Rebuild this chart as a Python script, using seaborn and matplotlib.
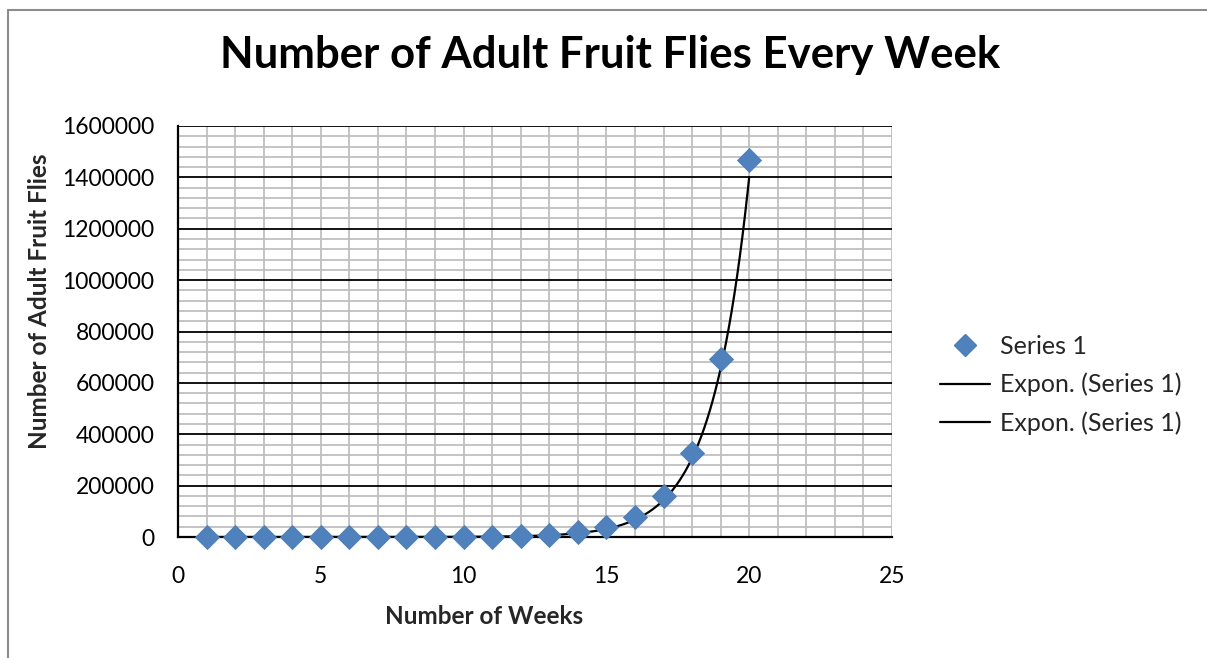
import numpy as np
import pandas as pd
import matplotlib
matplotlib.use("Agg")
import matplotlib.pyplot as plt
from matplotlib.lines import Line2D
from matplotlib.ticker import MultipleLocator
import seaborn as sns

# Weekly counts of adult fruit flies
weeks = [1, 2, 3, 4, 5, 6, 7, 8, 9, 10, 11, 12, 13, 14, 15, 16, 17, 18, 19, 20]
flies = [1, 2, 4, 8, 16, 32, 64, 128, 256, 520, 1100, 2300, 8000, 19000,
         37000, 76000, 158000, 328000, 692000, 1466000]

series_name = "Series 1"
trend_name = "Expon. (Series 1)"
title = "Number of Adult Fruit Flies Every Week"
x_label = "Number of Weeks"
y_label = "Number of Adult Fruit Flies"

x_ticks = [0, 5, 10, 15, 20, 25]
y_ticks = [0, 200000, 400000, 600000, 800000, 1000000, 1200000, 1400000, 1600000]

sns.set_theme(style="white")
plt.rcParams["font.family"] = ["Lato", "DejaVu Sans"]

df = pd.DataFrame({"week": weeks, "flies": flies})

# Exponential trendline: least squares on ln(y)
b, ln_a = np.polyfit(df["week"], np.log(df["flies"]), 1)
xs = np.linspace(min(weeks), max(weeks), 400)
trend = pd.DataFrame({"week": xs, "flies": np.exp(ln_a) * np.exp(b * xs)})

W, H = 1207, 658
fig = plt.figure(figsize=(W / 100, H / 100), dpi=100)
ax = fig.add_axes([178 / W, 1 - 537 / H, (892 - 178) / W, (537 - 126) / H])

ax.set_xlim(0, 25)
ax.set_ylim(0, 1600000)

# gridlines
ax.xaxis.set_minor_locator(MultipleLocator(1))
ax.yaxis.set_minor_locator(MultipleLocator(40000))
ax.set_xticks(x_ticks)
ax.set_yticks(y_ticks)
ax.grid(which="minor", axis="both", color="#BFBFBF", linewidth=1.3)
ax.grid(which="major", axis="y", color="black", linewidth=1.3)
ax.grid(which="major", axis="x", color="#BFBFBF", linewidth=1.3)
ax.set_axisbelow(True)

for s in ["top", "right"]:
    ax.spines[s].set_visible(False)
for s in ["left", "bottom"]:
    ax.spines[s].set_color("black")
    ax.spines[s].set_linewidth(1.6)

ax.tick_params(axis="both", which="major", direction="out", length=7, width=1.4,
               color="black", labelsize=16.5, labelcolor="black")
ax.tick_params(axis="both", which="minor", length=0)
ax.tick_params(axis="y", pad=10)
ax.tick_params(axis="x", pad=14)
ax.set_yticklabels([str(v) for v in y_ticks])
ax.set_xticklabels([str(v) for v in x_ticks])

sns.lineplot(data=trend, x="week", y="flies", ax=ax, color="black", linewidth=1.6,
             zorder=3)
sns.scatterplot(data=df, x="week", y="flies", ax=ax, marker="D", s=150,
                color="#4F81BD", edgecolor="#4A7EBB", linewidth=0.6, zorder=4,
                clip_on=False)

ax.set_xlabel(x_label, fontsize=17.5, fontweight="bold")
ax.set_ylabel(y_label, fontsize=17.5, fontweight="bold")
ax.xaxis.set_label_coords(484 / W, 1 - 617 / H, transform=fig.transFigure)
ax.yaxis.set_label_coords(40 / W, 1 - 301 / H, transform=fig.transFigure)
ax.xaxis.label.set_va("center")
ax.yaxis.label.set_va("center")

fig.text(610 / W, 1 - 55 / H, title, ha="center", va="center", fontsize=31.5,
         fontweight="bold", color="black")

handles = [
    Line2D([], [], marker="D", linestyle="none", markersize=11,
           markerfacecolor="#4F81BD", markeredgecolor="#4A7EBB"),
    Line2D([], [], color="black", linewidth=1.6),
    Line2D([], [], color="black", linewidth=1.6),
]
fig.legend(handles, [series_name, trend_name, trend_name], loc="center left",
           bbox_to_anchor=(940 / W, 1 - 385 / H), frameon=False, borderpad=0,
           borderaxespad=0, fontsize=18, handlelength=2.0, handletextpad=0.4,
           labelspacing=0.6)

# chart area border
fig.add_artist(Line2D([8 / W, 8 / W], [0, 1 - 10 / H], transform=fig.transFigure,
                      color="#8C8C8C", linewidth=1.5))
fig.add_artist(Line2D([8 / W, 1], [1 - 10 / H, 1 - 10 / H], transform=fig.transFigure,
                      color="#8C8C8C", linewidth=1.5))

fig.savefig("out.png", dpi=100, facecolor="white")
